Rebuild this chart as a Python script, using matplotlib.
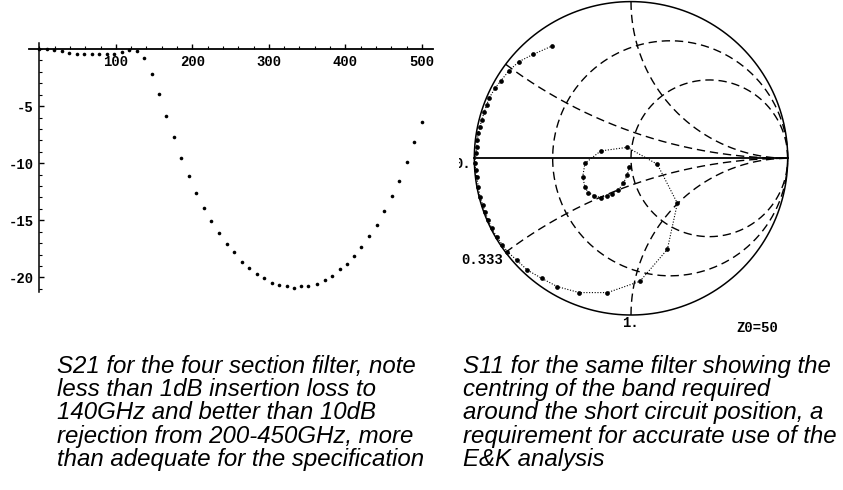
import numpy as np
import matplotlib
matplotlib.use("Agg")
import matplotlib.pyplot as plt
from matplotlib.ticker import MultipleLocator, FixedLocator

# S21 of the four section filter (frequency in GHz, transmission in dB)
freq_ghz = [0.2, 10.0, 19.8, 29.6, 39.4, 49.2, 59.0, 68.8, 78.6, 88.4, 98.1,
            107.9, 117.7, 127.5, 137.3, 146.9, 156.6, 165.8, 175.9, 185.5,
            195.2, 205.3, 214.9, 224.6, 235.1, 244.7, 254.4, 264.5, 274.1,
            284.2, 293.9, 303.5, 313.6, 323.2, 332.5, 342.1, 351.8, 363.2,
            372.8, 382.5, 392.5, 402.2, 411.4, 421.1, 431.1, 440.8, 450.9,
            460.5, 470.2, 480.3, 489.9, 500.0]
s21_db = [0.0, -0.02, -0.08, -0.2, -0.32, -0.41, -0.41, -0.47, -0.47, -0.47,
          -0.41, -0.23, -0.05, -0.15, -0.82, -2.22, -3.95, -5.9, -7.72, -9.56,
          -11.1, -12.6, -13.9, -15.1, -16.1, -17.1, -17.8, -18.65, -19.2,
          -19.7, -20.06, -20.5, -20.7, -20.8, -20.9, -20.8, -20.8, -20.55,
          -20.26, -19.9, -19.3, -18.8, -18.16, -17.37, -16.4, -15.4, -14.2,
          -12.9, -11.6, -9.9, -8.16, -6.35]
x_ticks = [100, 200, 300, 400, 500]
y_ticks = [-5, -10, -15, -20]

# S11 of the same filter, reflection coefficient (real, imag)
s11_re = [-0.011, -0.024, -0.049, -0.081, -0.123, -0.155, -0.193, -0.236,
          -0.272, -0.294, -0.308, -0.294, -0.193, -0.024, 0.168, 0.296,
          0.232, 0.057, -0.150, -0.330, -0.470, -0.570, -0.662, -0.730,
          -0.789, -0.821, -0.857, -0.889, -0.911, -0.932, -0.946, -0.964,
          -0.974, -0.985, -0.991, -0.996, -0.989, -0.985, -0.981, -0.974,
          -0.964, -0.953, -0.936, -0.921, -0.906, -0.868, -0.830, -0.779,
          -0.715, -0.623, -0.503]
s11_im = [-0.054, -0.107, -0.160, -0.202, -0.228, -0.238, -0.251, -0.238,
          -0.219, -0.185, -0.117, -0.032, 0.047, 0.070, -0.038, -0.287,
          -0.581, -0.785, -0.857, -0.857, -0.819, -0.766, -0.713, -0.649,
          -0.596, -0.553, -0.500, -0.447, -0.394, -0.341, -0.298, -0.245,
          -0.181, -0.117, -0.075, -0.032, 0.032, 0.074, 0.117, 0.160,
          0.202, 0.244, 0.297, 0.340, 0.383, 0.447, 0.495, 0.559, 0.617,
          0.664, 0.717]
r_circles = [1/3, 1.0]
x_arcs = [1/3, 1.0, -1/3, -1.0]

caption_left = ["S21 for the four section filter, note",
                "less than 1dB insertion loss to",
                "140GHz and better than 10dB",
                "rejection from 200-450GHz, more",
                "than adequate for the specification"]
caption_right = ["S11 for the same filter showing the",
                 "centring of the band required",
                 "around the short circuit position, a",
                 "requirement for accurate use of the",
                 "E&K analysis"]

W, H = 843, 490
fig = plt.figure(figsize=(W / 100, H / 100), dpi=100, facecolor='white')


def px_axes(left, top, right, bottom):
    return fig.add_axes([left / W, 1 - bottom / H, (right - left) / W, (bottom - top) / H])


tick_font = dict(family='Liberation Mono', weight='bold', size=10)

# ---- left: S21 dotted plot, Mathematica style axes through the origin
ax = px_axes(29.4, 43.3, 433.3, 292.2)
ax.set_xlim(-13, 515)
ax.set_ylim(-21.3, 0.5)
ax.plot(freq_ghz, s21_db, 'o', color='black', markersize=2.6, markeredgewidth=0)
for side in ['top', 'right']:
    ax.spines[side].set_visible(False)
ax.spines['left'].set_position(('data', 0))
ax.spines['bottom'].set_position(('data', 0))
ax.spines['left'].set_linewidth(1.1)
ax.spines['bottom'].set_linewidth(1.3)
ax.xaxis.set_major_locator(FixedLocator(x_ticks))
ax.xaxis.set_minor_locator(MultipleLocator(20))
ax.yaxis.set_major_locator(FixedLocator(y_ticks))
ax.yaxis.set_minor_locator(MultipleLocator(1))
ax.tick_params(which='major', direction='in', length=3.5, width=1)
ax.tick_params(which='minor', direction='in', length=2, width=0.8)
ax.tick_params(axis='x', pad=4)
ax.tick_params(axis='y', pad=4)
ax.set_xticklabels([str(v) for v in x_ticks], **tick_font)
ax.set_yticklabels([str(v) for v in y_ticks], **tick_font)
ax.set_facecolor('none')

# ---- right: Smith chart
sm = px_axes(459, 0, 843, 340)
cx, cy, rad = 631, 158.3, 156.7
sm.set_xlim((459 - cx) / rad, (843 - cx) / rad)
sm.set_ylim((cy - 340) / rad, cy / rad)
sm.axis('off')

t = np.linspace(0, 2 * np.pi, 400)
sm.plot(np.cos(t), np.sin(t), color='black', lw=1.1)
sm.plot([-1, 1], [0, 0], color='black', lw=1.3)
dash = (0, (6, 3.5))
for r in r_circles:
    c0, rr = r / (1 + r), 1 / (1 + r)
    sm.plot(c0 + rr * np.cos(t), rr * np.sin(t), color='black', lw=1.0, linestyle=dash)
rr_vals = np.concatenate([np.linspace(0, 1, 200), np.logspace(0, 3, 300)])
for xv in x_arcs:
    g = (rr_vals + 1j * xv - 1) / (rr_vals + 1j * xv + 1)
    sm.plot(g.real, g.imag, color='black', lw=1.0, linestyle=dash)

sm.plot(s11_re, s11_im, color='black', lw=0.8, linestyle=(0, (1, 1.5)),
        marker='o', markersize=3.4, markeredgewidth=0)

sm.text(-1.02, -0.036, "0.", ha='right', va='center', clip_on=True, **tick_font)
sm.text(-0.815, -0.649, "0.333", ha='right', va='center', **tick_font)
sm.text(-0.06, -1.05, "1.", ha='left', va='center', **tick_font)
sm.text(0.67, -1.085, "Z0=50", ha='left', va='center', **tick_font)

# ---- captions
cap_font = dict(family='Liberation Sans', style='italic', size=17.3, color='black')
baselines = [373, 396, 419, 443, 466]
for line, yb in zip(caption_left, baselines):
    fig.text(57 / W, 1 - yb / H, line, ha='left', va='baseline', **cap_font)
for line, yb in zip(caption_right, baselines):
    fig.text(463 / W, 1 - yb / H, line, ha='left', va='baseline', **cap_font)

fig.savefig('out.png', dpi=100, facecolor='white')
